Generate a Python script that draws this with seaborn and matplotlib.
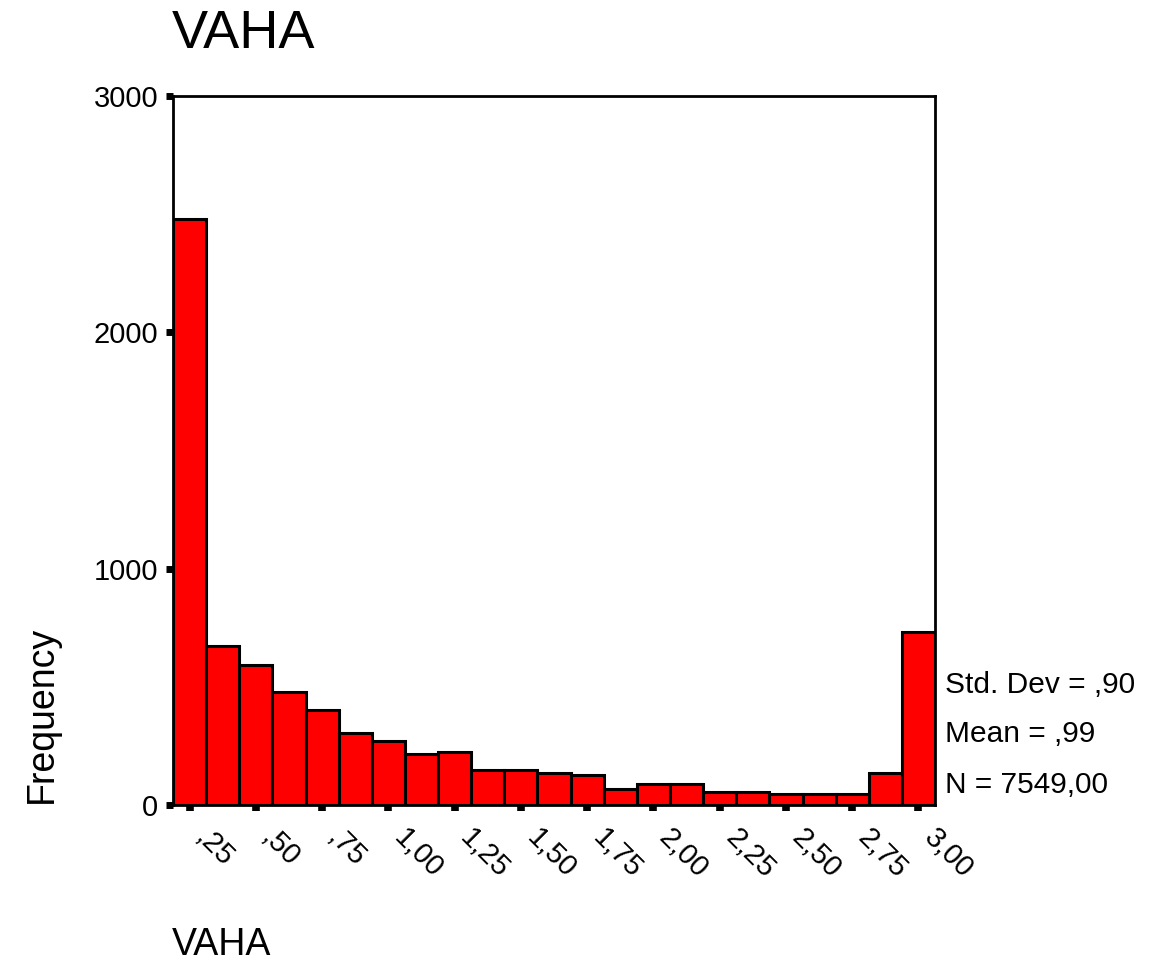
import matplotlib
matplotlib.use("Agg")
import matplotlib.pyplot as plt
import seaborn as sns
import pandas as pd

# bin centres (width 0,125) and counts
centers = [0.25, 0.375, 0.5, 0.625, 0.75, 0.875, 1.0, 1.125, 1.25, 1.375, 1.5, 1.625,
           1.75, 1.875, 2.0, 2.125, 2.25, 2.375, 2.5, 2.625, 2.75, 2.875, 3.0]
counts = [2480, 674, 593, 480, 400, 306, 271, 216, 226, 148, 148, 137,
          127, 67, 89, 89, 55, 55, 48, 48, 48, 137, 730]
tick_vals = [0.25, 0.5, 0.75, 1.0, 1.25, 1.5, 1.75, 2.0, 2.25, 2.5, 2.75, 3.0]
tick_labels = [",25", ",50", ",75", "1,00", "1,25", "1,50", "1,75", "2,00",
               "2,25", "2,50", "2,75", "3,00"]
stats = ["Std. Dev = ,90", "Mean = ,99", "N = 7549,00"]

df = pd.DataFrame({"VAHA": centers, "n": counts})

sns.set_style("white")
plt.rcParams['font.family'] = ['Liberation Sans', 'DejaVu Sans']
plt.rcParams['text.color'] = 'black'
plt.rcParams['xtick.color'] = 'black'
plt.rcParams['ytick.color'] = 'black'

fig = plt.figure(figsize=(11.63, 9.65), dpi=100)
ax = fig.add_axes([0.1488, 0.1658, 0.6552, 0.7347])

width = 0.125
lo, hi = centers[0] - width / 2, centers[-1] + width / 2
sns.histplot(data=df, x="VAHA", weights="n", binwidth=width, binrange=(lo, hi),
             color="#ff0000", edgecolor="black", linewidth=2.2, alpha=1, ax=ax)

ax.set_xlim(lo, hi)
ax.set_ylim(0, 3000)
ax.set_yticks([0, 1000, 2000, 3000])
ax.set_yticklabels(["0", "1000", "2000", "3000"], fontsize=21)
ax.set_xticks(tick_vals)
ax.set_xticklabels(tick_labels, fontsize=21, rotation=-45, ha="left", va="bottom",
                   rotation_mode="anchor")
ax.tick_params(axis="y", left=True, direction="out", length=5, width=5, pad=5.5)
ax.tick_params(axis="x", bottom=True, direction="out", length=4, width=5.5, pad=24)
for s in ax.spines.values():
    s.set_color("black")
    s.set_linewidth(2)
ax.set_xlabel("")
ax.set_ylabel("")

fig.text(0.1479, 0.9503, "VAHA", fontsize=39, ha="left", va="baseline")
fig.text(0.1479, 0.0105, "VAHA", fontsize=27, ha="left", va="baseline")
fig.text(0.036, 0.2601, "Frequency", fontsize=27, rotation=90, ha="center", va="center")

stat_y = [0.2819, 0.2311, 0.1782]
for t, y in zip(stats, stat_y):
    fig.text(0.8125, y, t, fontsize=21.5, ha="left", va="baseline")

fig.savefig("out.png", dpi=100)
